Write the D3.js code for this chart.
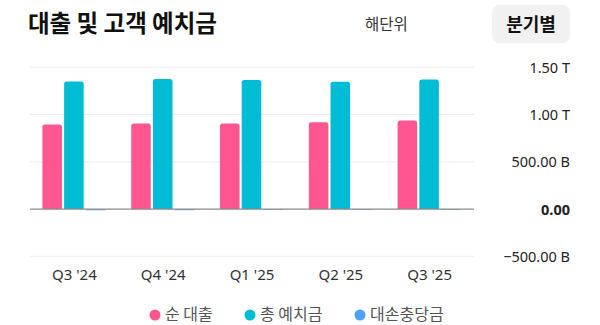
<!DOCTYPE html>
<html><head><meta charset="utf-8">
<script src="https://cdn.jsdelivr.net/npm/d3@7"></script>
<style>
html,body{margin:0;padding:0;background:#fff;}
svg{display:block;font-family:"Noto Sans CJK KR","Noto Sans",sans-serif;}
</style></head>
<body><svg id="c" width="600" height="325"></svg>
<script>
const categories = ["Q3 '24","Q4 '24","Q1 '25","Q2 '25","Q3 '25"];
const seriesNames = ["순 대출","총 예치금","대손충당금"];
const netLoans = [894e9, 904e9, 904e9, 918e9, 936e9];
const totalDeposits = [1351e9, 1376e9, 1365e9, 1347e9, 1372e9];
const loanLossAllowance = [-14e9, -13e9, -9e9, -8e9, -8e9];
const tickValues = [-500e9, 0, 500e9, 1000e9, 1500e9];
const tickLabels = ["−500.00 B","0.00","500.00 B","1.00 T","1.50 T"];
const colors = ["#ff5691","#00bcd4","#4da3f7"];

const series = [netLoans, totalDeposits, loanLossAllowance];
const svg = d3.select("#c");
const left = 30, right = 474;
const x = d3.scaleBand().domain(categories).range([left, right]);
const sub = d3.scaleBand().domain(d3.range(series.length)).range([-32, 31]).paddingInner(0.1);
const y = d3.scaleLinear().domain([-500e9, 1500e9]).range([256.3, 67.3]);

// title
svg.append("text").attr("x",28).attr("y",32).attr("font-size",23.5).attr("font-weight",700).attr("fill","#111").text("대출 및 고객 예치금");
svg.append("text").attr("x",365).attr("y",30).attr("font-size",15.5).attr("fill","#333").text("해단위");
svg.append("rect").attr("x",492).attr("y",5).attr("width",78).attr("height",38).attr("rx",7).attr("fill","#f1f1f1");
svg.append("text").attr("x",531).attr("y",31).attr("text-anchor","middle").attr("font-size",18).attr("font-weight",700).attr("fill","#111").text("분기별");

// grid
svg.append("g").selectAll("line").data(tickValues.filter(v=>v!==0)).join("line")
  .attr("x1",left).attr("x2",right).attr("y1",d=>y(d)).attr("y2",d=>y(d))
  .attr("stroke","#eeeeee").attr("stroke-width",1);

// y axis labels
const yAxis = d3.axisRight(y).tickValues(tickValues).tickSize(0).tickFormat((d,i)=>tickLabels[tickValues.indexOf(d)]);
const ga = svg.append("g").attr("transform","translate(570,0)").call(yAxis);
ga.select(".domain").remove();
ga.selectAll("text").attr("x",0).attr("text-anchor","end").attr("font-size",14.5)
  .attr("font-family","'Noto Sans',sans-serif").attr("fill","#222")
  .attr("font-weight",d=>d===0?700:400).attr("dy","0.35em");

// bars
function barPath(x0,w,v){
  const y0=y(0), y1=y(v), r=Math.min(2.5, Math.abs(y1-y0)/2);
  if(v>=0){
    return `M${x0},${y0}V${y1+r}Q${x0},${y1} ${x0+r},${y1}H${x0+w-r}Q${x0+w},${y1} ${x0+w},${y1+r}V${y0}Z`;
  }
  return `M${x0},${y0}V${y1}H${x0+w}V${y0}Z`;
}
const g = svg.append("g");
categories.forEach((c,ci)=>{
  series.forEach((s,si)=>{
    const cx = x(c)+x.bandwidth()/2;
    g.append("path").attr("d",barPath(cx+sub(si), sub.bandwidth(), s[ci]))
      .attr("fill",colors[si]).attr("fill-opacity", si===2?0.75:1);
  });
});

// zero line
svg.append("line").attr("x1",left).attr("x2",right).attr("y1",y(0)).attr("y2",y(0))
  .attr("stroke","#8a8a8a").attr("stroke-width",1.2);

// x labels
const xAxis = d3.axisBottom(x).tickSize(0);
const gx = svg.append("g").attr("transform","translate(0,266)").call(xAxis);
gx.select(".domain").remove();
gx.selectAll("text").attr("font-size",15).attr("font-family","'Noto Sans',sans-serif").attr("fill","#333").attr("dy","0.71em");

// legend
const legX = [155, 250, 360];
const leg = svg.append("g");
seriesNames.forEach((n,i)=>{
  leg.append("circle").attr("cx",legX[i]).attr("cy",315).attr("r",5.5).attr("fill",colors[i]);
  leg.append("text").attr("x",legX[i]+10).attr("y",320).attr("font-size",16).attr("fill","#555").text(n);
});
</script></body></html>
